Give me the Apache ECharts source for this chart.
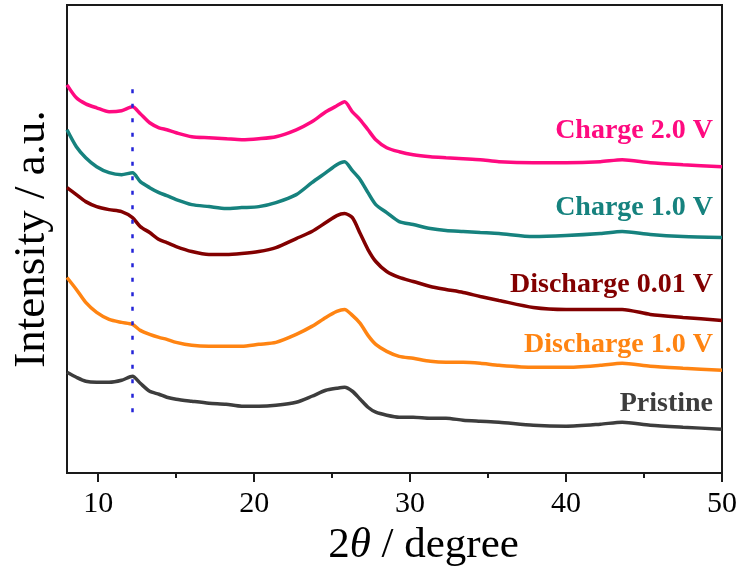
<!DOCTYPE html>
<html>
<head>
<meta charset="utf-8">
<script src="https://cdn.jsdelivr.net/npm/echarts@6/dist/echarts.min.js"></script>
<style>
html,body{margin:0;padding:0;background:#fff;}
#chart{width:744px;height:572px;}
</style>
</head>
<body>
<div id="chart"></div>
<script>
// 2θ positions (degree)
var twoTheta = [8, 8.6, 9.2, 9.9, 10.7, 11.5, 12.2, 12.7, 13.3, 13.9, 14.4, 15.0, 16.0, 17.1, 18.2, 19.2, 20.3, 21.4, 22.7, 23.7, 24.6, 25.3, 25.8, 26.3, 26.8, 27.3, 27.8, 28.5, 29.3, 30.2, 31.3, 32.3, 33.4, 34.5, 35.7, 37.9, 40.0, 42.2, 43.6, 45.4, 47.5, 50.0];

// stacked intensities (a.u., offset)
var charge20 = [389,376,370,366,362,363,367,360,351,346,344,341,337,336,335,334,335,337,344,352,362,368,372,362,354,344,334,326,322,319,317,316,315,314,312,311,311,312,314,311,309,307];
var charge10 = [344,327,316,307,301,299,301,292,286,281,278,274,269,267,265,266,267,271,279,291,301,309,312,303,294,281,269,261,252,249,245,243,242,241,240,237,238,240,242,239,237,236];
var discharge001 = [286,279,272,267,264,262,256,247,241,234,231,227,222,219,219,220,222,226,235,242,251,258,260,256,240,224,212,202,196,192,187,184,181,177,173,166,164,164,164,159,156,153];
var discharge10 = [196,184,171,161,154,151,149,143,139,136,134,131,128,127,127,127,129,131,139,147,156,162,164,158,150,138,129,122,117,115,112,111,111,110,108,106,106,108,110,107,105,103];
var pristine = [101,96,92,91,91,93,97,90,82,79,76,74,72,70,69,67,67,68,71,77,83,85,86,82,74,66,61,58,56,56,55,55,53,52,51,48,47,49,51,48,46,44];

var seriesNames = ['Charge 2.0 V', 'Charge 1.0 V', 'Discharge 0.01 V', 'Discharge 1.0 V', 'Pristine'];
var seriesColors = ['#ff0a80', '#16827e', '#820000', '#ff8412', '#3d3d3d'];

// guide line at 2θ = 12.2
var guideX = 12.2;
var guideRange = [61, 394];

var xTickLabels = [10, 20, 30, 40, 50];
var xMinorTicks = [15, 25, 35, 45];

function pairs(ys) { return twoTheta.map(function (x, i) { return [x, ys[i]]; }); }
var allData = [charge20, charge10, discharge001, discharge10, pristine];

var serif = "'Liberation Serif','Times New Roman',serif";

var series = allData.map(function (d, i) {
  return {
    name: seriesNames[i], type: 'line', data: pairs(d), smooth: 0.25,
    showSymbol: false, lineStyle: { color: seriesColors[i], width: 3.5 }, z: 3
  };
});
series.push({
  name: 'guide', type: 'line', xAxisIndex: 0,
  data: [[guideX, guideRange[0]], [guideX, guideRange[1]]],
  showSymbol: false, lineStyle: { color: '#2424d8', width: 2.5, type: [4, 10.5] }, z: 4
});

// label positions (pixel, right aligned)
var labelY = [131, 208, 285, 345, 404];
var graphics = seriesNames.map(function (n, i) {
  return {
    type: 'text', x: 713, y: labelY[i], z: 10,
    style: { text: n, fill: seriesColors[i], font: 'bold 28px ' + serif, align: 'right', verticalAlign: 'middle' }
  };
});

var chart = echarts.init(document.getElementById('chart'));
chart.setOption({
  animation: false,
  backgroundColor: '#fff',
  grid: { left: 67, right: 22, top: 5, bottom: 98, show: true, borderColor: '#1a1a1a', borderWidth: 2 },
  xAxis: [{
    type: 'value', min: 8, max: 50,
    name: '2{i|θ} / degree', nameLocation: 'middle', nameGap: 13,
    nameTextStyle: { fontFamily: serif, fontSize: 43, color: '#000', padding: [0, 0, 0, 58],
      rich: { i: { fontFamily: serif, fontSize: 43, fontStyle: 'italic', color: '#000' } } },
    axisLine: { lineStyle: { color: '#1a1a1a', width: 2 } },
    axisTick: { show: true, inside: false, length: 9, lineStyle: { color: '#1a1a1a', width: 2 }, customValues: xTickLabels },
    axisLabel: { fontFamily: serif, fontSize: 30, color: '#000', margin: 16, customValues: xTickLabels },
    splitLine: { show: false }
  }, {
    type: 'value', min: 8, max: 50, position: 'bottom', gridIndex: 0,
    axisLine: { show: false },
    axisTick: { show: true, inside: false, length: 5, lineStyle: { color: '#1a1a1a', width: 2 }, customValues: xMinorTicks },
    axisLabel: { show: false }, splitLine: { show: false }
  }],
  yAxis: {
    type: 'value', min: 0, max: 469,
    name: 'Intensity / a.u.', nameLocation: 'middle', nameGap: 12,
    nameTextStyle: { fontFamily: serif, fontSize: 45, color: '#000' },
    axisLine: { show: true, lineStyle: { color: '#1a1a1a', width: 2 } },
    axisTick: { show: false }, axisLabel: { show: false }, splitLine: { show: false }
  },
  series: series,
  graphic: graphics
});
</script>
</body>
</html>
